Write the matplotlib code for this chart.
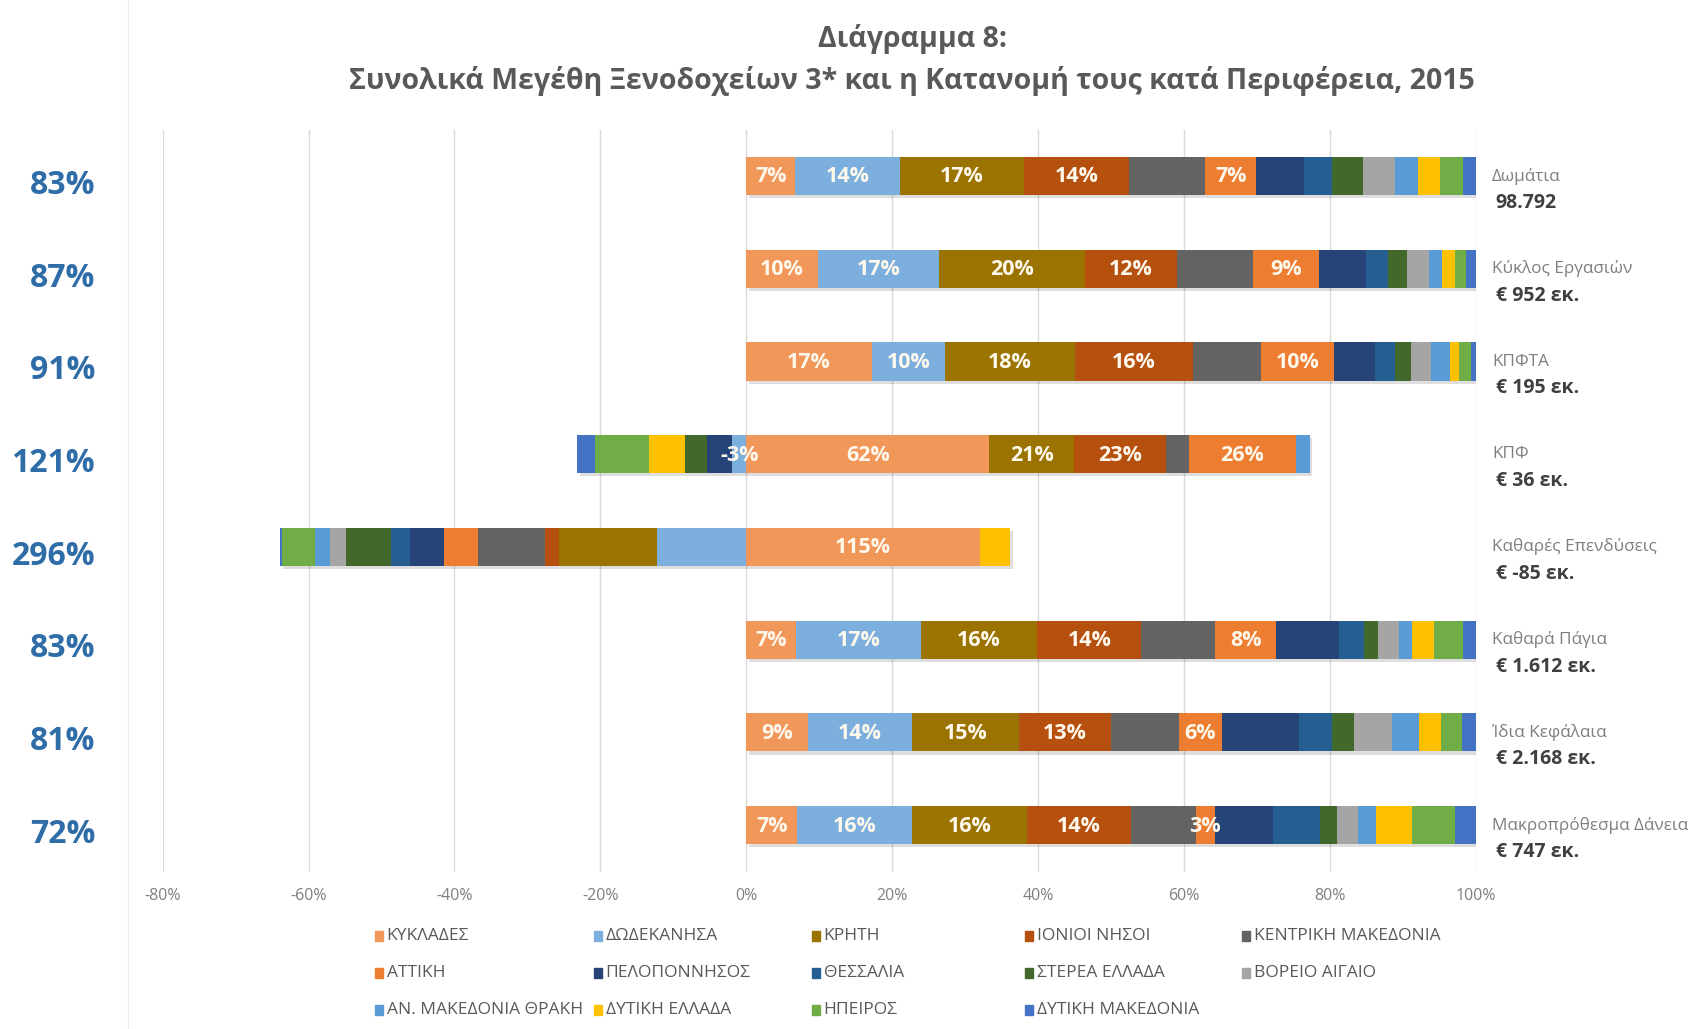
import matplotlib
matplotlib.use("Agg")
import matplotlib.pyplot as plt
import matplotlib.transforms as mtransforms
from matplotlib.patches import Rectangle
from matplotlib.lines import Line2D
import numpy as np

plt.rcParams.update({
    "font.family": ["Open Sans", "DejaVu Sans"],
    "axes.facecolor": "white",
    "figure.facecolor": "white",
})

# regions (series), in stacking order
regions = ['ΚΥΚΛΑΔΕΣ', 'ΔΩΔΕΚΑΝΗΣΑ', 'ΚΡΗΤΗ', 'ΙΟΝΙΟΙ ΝΗΣΟΙ', 'ΚΕΝΤΡΙΚΗ ΜΑΚΕΔΟΝΙΑ',
           'ΑΤΤΙΚΗ', 'ΠΕΛΟΠΟΝΝΗΣΟΣ', 'ΘΕΣΣΑΛΙΑ', 'ΣΤΕΡΕΑ ΕΛΛΑΔΑ', 'ΒΟΡΕΙΟ ΑΙΓΑΙΟ',
           'ΑΝ. ΜΑΚΕΔΟΝΙΑ ΘΡΑΚΗ', 'ΔΥΤΙΚΗ ΕΛΛΑΔΑ', 'ΗΠΕΙΡΟΣ', 'ΔΥΤΙΚΗ ΜΑΚΕΔΟΝΙΑ']
colors = ['#F1975A', '#7CAFDD', '#9A7300', '#B5500F', '#636363',
          '#ED7D31', '#264478', '#255E91', '#43682B', '#A5A5A5',
          '#5B9BD5', '#FFC000', '#70AD47', '#4472C4']

# metrics (rows) and their totals
metric_names = ['Δωμάτια', 'Κύκλος Εργασιών', 'ΚΠΦΤΑ', 'ΚΠΦ', 'Καθαρές Επενδύσεις',
                'Καθαρά Πάγια', 'Ίδια Κεφάλαια', 'Μακροπρόθεσμα Δάνεια']
metric_totals = ['98.792', '€ 952 εκ.', '€ 195 εκ.', '€ 36 εκ.', '€ -85 εκ.',
                 '€ 1.612 εκ.', '€ 2.168 εκ.', '€ 747 εκ.']
share_3star = ['83%', '87%', '91%', '121%', '296%', '83%', '81%', '72%']

# bar widths (% of absolute total) per region, one list per metric
rooms     = [6.7, 14.3, 17.0, 14.5, 10.4, 7.0, 6.6, 3.8, 4.2, 4.4, 3.2, 3.0, 3.1, 1.8]
turnover  = [9.8, 16.6, 20.0, 12.6, 10.5, 9.0, 6.4, 3.0, 2.7, 3.0, 1.8, 1.8, 1.5, 1.3]
ebitda    = [17.2, 10.0, 17.9, 16.1, 9.3, 10.1, 5.5, 2.8, 2.2, 2.7, 2.6, 1.3, 1.6, 0.7]
ebt       = [33.3, -1.9, 11.6, 12.6, 3.2, 14.6, -3.5, 0.0, -3.0, 0.0, 1.9, -4.9, -7.4, -2.5]
net_inv   = [32.0, -12.3, -13.4, -1.9, -9.2, -4.7, -4.6, -2.6, -6.1, -2.3, -2.0, 4.2, -4.5, -0.3]
net_fixed = [6.8, 17.1, 16.0, 14.2, 10.2, 8.3, 8.6, 3.4, 2.0, 2.8, 1.9, 2.9, 4.0, 1.8]
equity    = [8.5, 14.2, 14.7, 12.6, 9.3, 5.9, 10.6, 4.5, 3.0, 5.2, 3.7, 3.0, 2.9, 1.9]
lt_loans  = [7.0, 15.7, 15.8, 14.2, 8.9, 2.6, 8.0, 6.4, 2.3, 2.9, 2.5, 4.9, 6.0, 2.8]

# data labels shown on the first six regions
lbl_rooms     = ['7%', '14%', '17%', '14%', '', '7%']
lbl_turnover  = ['10%', '17%', '20%', '12%', '', '9%']
lbl_ebitda    = ['17%', '10%', '18%', '16%', '', '10%']
lbl_ebt       = ['62%', '-3%', '21%', '23%', '', '26%']
lbl_net_inv   = ['115%', '', '', '', '', '']
lbl_net_fixed = ['7%', '17%', '16%', '14%', '', '8%']
lbl_equity    = ['9%', '14%', '15%', '13%', '', '6%']
lbl_lt_loans  = ['7%', '16%', '16%', '14%', '', '3%']

xticks = [-80, -60, -40, -20, 0, 20, 40, 60, 80, 100]

shares = np.array([rooms, turnover, ebitda, ebt, net_inv, net_fixed, equity, lt_loans])
labels = [lbl_rooms, lbl_turnover, lbl_ebitda, lbl_ebt, lbl_net_inv,
          lbl_net_fixed, lbl_equity, lbl_lt_loans]

pos = np.clip(shares, 0, None)
neg = np.clip(shares, None, 0)
lefts = np.where(shares >= 0, np.cumsum(pos, axis=1) - pos, np.cumsum(neg, axis=1) - neg)

fig = plt.figure(figsize=(16.99, 10.29), dpi=100)
ax = fig.add_axes([0.0957, 0.153, 0.7730, 0.721])
y = np.arange(len(metric_names))
bar_h = 0.41

# soft shadow behind every bar
neg_tot = neg.sum(axis=1)
pos_tot = pos.sum(axis=1)
ax.barh(y + 0.035, pos_tot - neg_tot, left=neg_tot + 0.35, height=bar_h,
        color='#000000', alpha=0.13, zorder=2)

for j, reg in enumerate(regions):
    ax.barh(y, shares[:, j], left=lefts[:, j], height=bar_h, color=colors[j],
            label=reg, zorder=3)

for i in range(len(metric_names)):
    for j, txt in enumerate(labels[i]):
        if txt:
            xc = lefts[i, j] + shares[i, j] / 2
            ax.text(xc, i + 0.01, txt, ha='center', va='center', fontsize=15.5,
                    fontweight='bold', color='#FFF8EC', zorder=5)

ax.set_xlim(-80, 100)
ax.set_ylim(len(metric_names) - 0.5, -0.5)
ax.set_xticks(xticks)
ax.set_xticklabels([f'{t}%' for t in xticks], fontsize=11.5, color='#7F7F7F')
ax.tick_params(axis='x', length=0, pad=12)
ax.set_yticks([])
ax.grid(axis='x', color='#D9D9D9', lw=1, zorder=0)
ax.set_axisbelow(True)
for s in ax.spines.values():
    s.set_visible(False)

# right-hand metric labels
for i, (nm, tot) in enumerate(zip(metric_names, metric_totals)):
    ax.text(102.2, i, nm, ha='left', va='center', fontsize=12.3, color='#7F7F7F',
            clip_on=False)
    ax.text(102.7, i + 0.29, tot, ha='left', va='center', fontsize=14,
            fontweight='bold', color='#404040', clip_on=False)

# left-hand percentages
trans = mtransforms.blended_transform_factory(fig.transFigure, ax.transData)
for i, p in enumerate(share_3star):
    ax.text(0.056, i + 0.1, p, transform=trans, ha='right', va='center',
            fontsize=23, fontweight='bold', color='#2F6DA8', clip_on=False)

# title
fig.text(0.537, 0.962, 'Διάγραμμα 8:', ha='center', va='center', fontsize=20.5,
         fontweight='bold', color='#595959')
fig.text(0.537, 0.921, 'Συνολικά Μεγέθη Ξενοδοχείων 3* και η Κατανομή τους κατά Περιφέρεια, 2015',
         ha='center', va='center', fontsize=20.5, fontweight='bold', color='#595959')

# legend laid out row by row, 5 columns
col_x = [0.2230, 0.3520, 0.4803, 0.6056, 0.7333]
row_y = [0.0904, 0.0545, 0.0185]
for k, reg in enumerate(regions):
    cx = col_x[k % 5]
    ry = row_y[k // 5]
    fig.add_artist(Rectangle((cx - 0.0025, ry - 0.0045), 0.005, 0.009,
                             transform=fig.transFigure, color=colors[k]))
    fig.text(cx + 0.0045, ry, reg, ha='left', va='center', fontsize=12.5,
             color='#595959')

# faint border of the chart object
fig.add_artist(Line2D([0.0755, 0.0755], [0, 1], transform=fig.transFigure,
                      color='#EDEDED', lw=1))

fig.savefig('out.png', dpi=100)
